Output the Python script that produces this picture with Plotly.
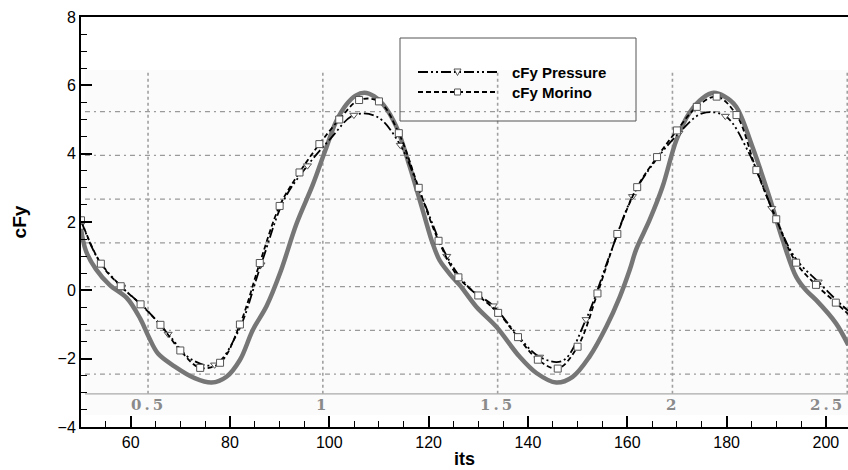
import plotly.graph_objects as go

# ---- series data -----------------------------------------------------------
# thick grey reference curve
its_ref = [50.0, 51.0, 53.0, 55.8, 59.2, 61.9, 63.6, 65.5, 68.9, 72.9, 76.3, 79.3,
           82.0, 84.6, 87.4, 90.2, 93.4, 96.7, 99.2, 101.4, 103.5, 105.3, 107.1,
           109.0, 110.8, 113.5, 116.2, 118.8, 120.8, 122.2, 123.6, 125.0, 126.3,
           129.6, 133.6, 138.3, 141.7, 145.7, 149.0, 152.4, 155.8, 158.5, 160.5,
           161.8, 164.5, 167.1, 169.9, 172.5, 175.2, 177.4, 179.5, 181.9, 185.2,
           188.6, 191.3, 194.0, 196.0, 198.0, 202.0, 204.5]
cfy_ref = [1.80, 1.15, 0.62, 0.15, -0.22, -0.82, -1.35, -1.85, -2.23, -2.57, -2.70, -2.53,
           -2.04, -1.16, -0.45, 0.55, 1.95, 3.10, 4.10, 4.95, 5.45, 5.70, 5.78,
           5.68, 5.45, 4.79, 3.62, 2.35, 1.38, 0.88, 0.60, 0.35, 0.15,
           -0.48, -1.06, -1.94, -2.42, -2.70, -2.53, -1.94, -1.06, -0.19, 0.60,
           1.20, 2.06, 3.03, 4.40, 5.19, 5.63, 5.78, 5.68, 5.38, 4.20,
           2.74, 1.47, 0.40, 0.00, -0.28, -0.96, -1.60]

# cFy Pressure
its_pressure = [50.0, 53.5, 58.2, 62.9, 67.55, 72.2, 76.9, 81.6, 86.25, 90.9, 95.6,
                100.3, 104.95, 109.6, 114.3, 119.0, 123.65, 128.3, 133.0, 137.7,
                142.35, 147.0, 151.7, 156.4, 161.05, 165.7, 170.4, 175.1, 179.75,
                184.4, 189.1, 193.8, 198.45, 203.1, 207.8]
cfy_pressure = [2.05, 0.90, 0.10, -0.52, -1.28, -2.02, -2.18, -1.22, 0.75, 2.65, 3.65,
                4.45, 5.13, 5.08, 4.25, 2.60, 1.00, 0.05, -0.45, -1.28,
                -1.95, -2.06, -0.85, 1.00, 2.75, 3.80, 4.60, 5.18, 5.10,
                4.05, 2.40, 0.95, 0.25, -0.42, -1.00]

# cFy Morino
its_morino = [50, 54, 58, 62, 66, 70, 74, 78, 82, 86, 90, 94, 98, 102, 106, 110,
              114, 118, 122, 126, 130, 134, 138, 142, 146, 150, 154, 158, 162,
              166, 170, 174, 178, 182, 186, 190, 194, 198, 202, 206]
cfy_morino = [2.05, 0.78, 0.12, -0.41, -1.01, -1.76, -2.27, -2.12, -1.00, 0.80, 2.47,
              3.45, 4.28, 5.00, 5.57, 5.53, 4.60, 3.00, 1.45, 0.38, -0.15, -0.66,
              -1.37, -2.03, -2.29, -1.65, -0.09, 1.65, 3.02, 3.90, 4.68, 5.37,
              5.67, 5.13, 3.52, 2.08, 0.81, 0.16, -0.36, -0.90]

# secondary (period) scale printed in the background panel
period_ticks = [0.5, 1, 1.5, 2, 2.5]
period_labels = ["0.5", "1", "1.5", "2", "2.5"]

# ---- page geometry -----------------------------------------------------------
W, H = 848, 470
ML, MR, MT, MB = 81, 0, 17, 43
PW, PH = W - ML - MR, H - MT - MB
X_RANGE = [50, 204.45]
Y_RANGE = [-4, 8]


def pxx(xpix):
    return (xpix - ML) / PW


def pxy(ypix):
    return (H - MB - ypix) / PH


def period_to_its(t):
    return 28.3 + 70.4 * t


FONT = "Liberation Sans, Arial, sans-serif"
DASH_P = "10px,3px,2px,3px,2px,3px"
DASH_M = "5px,3px"
MARK_LINE = "#555555"

fig = go.Figure()

fig.add_trace(go.Scatter(
    x=its_ref, y=cfy_ref, mode="lines", line=dict(color="#767676", width=4.5, shape="spline"),
    showlegend=False, hoverinfo="skip"))

fig.add_trace(go.Scatter(
    x=its_pressure, y=cfy_pressure, mode="lines",
    line=dict(color="black", width=1.8, dash=DASH_P, shape="spline", smoothing=1),
    name="cFy Pressure", showlegend=False))
fig.add_trace(go.Scatter(
    x=its_pressure[2::2], y=cfy_pressure[2::2], mode="markers",
    marker=dict(symbol="triangle-down", size=7, color="white",
                line=dict(color=MARK_LINE, width=1)),
    showlegend=False, hoverinfo="skip"))

fig.add_trace(go.Scatter(
    x=its_morino, y=cfy_morino, mode="lines+markers",
    line=dict(color="black", width=1.8, dash=DASH_M, shape="spline", smoothing=1),
    marker=dict(symbol="square", size=7, color="white", line=dict(color=MARK_LINE, width=1)),
    name="cFy Morino", showlegend=False))

shapes = []
# background panel with its own grid
panel_top, panel_axis, panel_bottom = 6.45, -3.03, -3.65
shapes.append(dict(type="rect", xref="x", yref="y", x0=50.8, x1=X_RANGE[1] + 1,
                   y0=panel_bottom, y1=panel_top, fillcolor="#fbfbfb",
                   line=dict(width=0), layer="below"))
for k in range(7):
    gy = -2.45 + 1.28 * k
    shapes.append(dict(type="line", xref="x", yref="y", x0=50.8, x1=X_RANGE[1] + 1,
                       y0=gy, y1=gy,
                       line=dict(color="#9a9a9a", width=1.2, dash="5px,4px,2px,4px"),
                       layer="below"))
for t in period_ticks:
    gx = period_to_its(t)
    shapes.append(dict(type="line", xref="x", yref="y", x0=gx, x1=gx,
                       y0=panel_axis, y1=panel_top,
                       line=dict(color="#a0a0a0", width=1.6, dash="dot"), layer="below"))
shapes.append(dict(type="line", xref="x", yref="y", x0=50.8, x1=X_RANGE[1] + 1,
                   y0=panel_axis, y1=panel_axis, line=dict(color="#aaaaaa", width=1.2),
                   layer="below"))

# legend box and samples
shapes.append(dict(type="rect", xref="paper", yref="paper", x0=pxx(400), x1=pxx(636),
                   y0=pxy(121), y1=pxy(38), line=dict(color="#555555", width=1)))
shapes.append(dict(type="line", xref="paper", yref="paper", x0=pxx(418), x1=pxx(497),
                   y0=pxy(72), y1=pxy(72), line=dict(color="black", width=1.8, dash=DASH_P)))
shapes.append(dict(type="line", xref="paper", yref="paper", x0=pxx(418), x1=pxx(497),
                   y0=pxy(92), y1=pxy(92), line=dict(color="black", width=1.8, dash=DASH_M)))
shapes.append(dict(type="path", xref="paper", yref="paper",
                   path="M {a},{b} L {c},{b} L {d},{e} Z".format(
                       a=pxx(454), b=pxy(69), c=pxx(461), d=pxx(457.5), e=pxy(75.5)),
                   fillcolor="white", line=dict(color=MARK_LINE, width=1)))
shapes.append(dict(type="rect", xref="paper", yref="paper", x0=pxx(454.5), x1=pxx(460.5),
                   y0=pxy(95), y1=pxy(89), fillcolor="white",
                   line=dict(color=MARK_LINE, width=1)))

annotations = [
    dict(x=pxx(510), y=pxy(72), xref="paper", yref="paper", text="<b>cFy Pressure</b>",
         showarrow=False, xanchor="left", yanchor="middle",
         font=dict(family=FONT, size=15, color="black")),
    dict(x=pxx(510), y=pxy(92), xref="paper", yref="paper", text="<b>cFy Morino</b>",
         showarrow=False, xanchor="left", yanchor="middle",
         font=dict(family=FONT, size=15, color="black")),
]
for t, lab in zip(period_ticks, period_labels):
    last = t == period_ticks[-1]
    annotations.append(dict(
        x=min(period_to_its(t), X_RANGE[1]), y=-3.36, xref="x", yref="y", showarrow=False,
        text='<span style="letter-spacing:3px"><b>' + lab + "</b></span>",
        xanchor="right" if last else "center", yanchor="middle",
        font=dict(family="DejaVu Serif, serif", size=15, color="#8a8a8a")))

fig.update_layout(
    width=W, height=H,
    margin=dict(l=ML, r=MR, t=MT, b=MB),
    paper_bgcolor="white", plot_bgcolor="white",
    font=dict(family=FONT, size=16, color="black"),
    shapes=shapes, annotations=annotations,
    showlegend=False,
)
fig.update_xaxes(
    range=X_RANGE, showgrid=False, zeroline=False,
    showline=True, linecolor="black", linewidth=2, mirror=True,
    ticks="inside", ticklen=11, tickwidth=2, tickcolor="black", dtick=20, tick0=0,
    minor=dict(ticks="inside", ticklen=6, tickwidth=1, tickcolor="black", dtick=5),
    tickfont=dict(size=16),
    title=dict(text="<b>its</b>", font=dict(size=18), standoff=2),
)
fig.update_yaxes(
    range=Y_RANGE, showgrid=False, zeroline=False,
    showline=True, linecolor="black", linewidth=2, mirror=False,
    ticks="inside", ticklen=11, tickwidth=2, tickcolor="black", dtick=2, tick0=0,
    minor=dict(ticks="inside", ticklen=6, tickwidth=1, tickcolor="black", dtick=0.5),
    tickfont=dict(size=16),
    title=dict(text="<b>cFy</b>", font=dict(size=19), standoff=26),
)

fig.write_html("out.html")
